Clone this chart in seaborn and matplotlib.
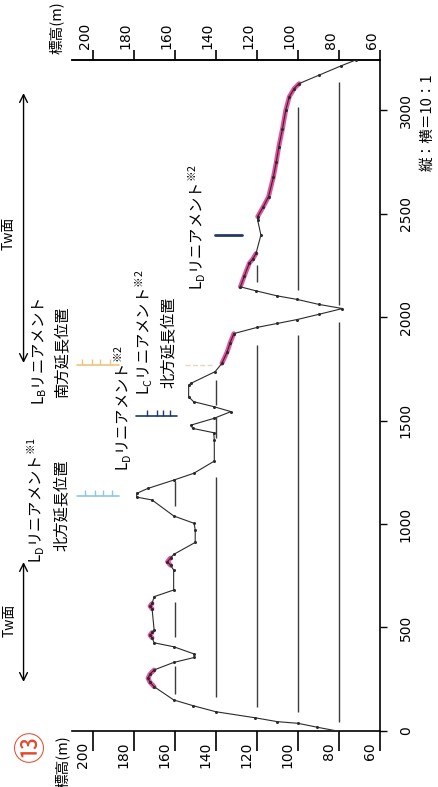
import seaborn as sns
import matplotlib.pyplot as plt
import pandas as pd
from matplotlib.transforms import ScaledTranslation

# -------------------------------------------------
# Data: section profile (distance along line, elevation)
# -------------------------------------------------

dist = [0, 18, 37, 45, 64, 93, 122, 150, 214, 235, 255, 275, 295, 331, 355, 372,
        407, 426, 450, 463, 476, 488, 590, 603, 616, 649, 681, 778, 800, 818, 836,
        853, 911, 971, 1003, 1039, 1116, 1130, 1148, 1172, 1212, 1245, 1304, 1406,
        1441, 1462, 1478, 1510, 1543, 1567, 1591, 1615, 1671, 1680, 1736, 1776,
        1830, 1875, 1920, 1950, 1969, 1988, 2013, 2041, 2061, 2085, 2102, 2127,
        2146, 2200, 2259, 2280, 2307, 2396, 2469, 2485, 2530, 2581, 2677, 2750,
        2822, 2910, 3000, 3064, 3104, 3128, 3169, 3213, 3242]
elev = [81, 90.5, 100, 110, 121, 140, 151, 160.5, 170, 172, 173, 172, 170, 160.5,
        150.5, 150.5, 160.5, 170, 171, 172, 171, 170, 171, 172, 171, 170, 160.5,
        160.5, 162, 163.5, 162, 160.5, 150, 150, 150.5, 160.5, 171, 178.5, 178.5,
        173, 160.5, 150.7, 140.7, 140.7, 141, 151.3, 152, 141, 132.6, 141, 150.8,
        153.2, 153.2, 152, 140.3, 137, 134.5, 133, 131.2, 119.8, 110, 100.3, 89.8,
        78.3, 89.8, 100.3, 110, 120.6, 128, 126, 123.7, 122, 120.4, 118, 119.6,
        119.6, 117, 114.3, 111.9, 110.5, 109.3, 107.5, 105.9, 104.2, 101.8, 99.4,
        89.6, 79.1, 71.8]

# highlighted stretches of the profile (distance from, to)
pink_ranges = [(214, 295), (450, 476), (590, 616), (800, 836),
               (1776, 1920), (2146, 2307), (2485, 3128)]

# level lines drawn under the ground surface: elevation -> (from, to) distances
ref_lines = {
    80: [(45, 1975), (2060, 3137)],
    100: [(93, 1913), (2130, 3016)],
    120: [(117, 1865), (2170, 2250)],
    140: [(166, 1228), (1415, 1517), (1575, 1695)],
    160: [(180, 312), (455, 625), (1085, 1210)],
}

# lineament marks: distance, elevation span, colour, tick elevations
marks = [
    (1137, (207.5, 186.9), "#8cc6ea", [203.9, 199.0, 195.1, 190.3]),
    (1768, (207.8, 186.9), "#f1c27f", [204.9, 200.5, 196.6, 191.7]),
    (1522, (178.6, 159.1), "#1d3a6b", [173.7, 168.8, 165.9, 162.5]),
]

elev_ticks = [200, 180, 160, 140, 120, 100, 80, 60]
dist_ticks = [0, 500, 1000, 1500, 2000, 2500, 3000]

JP = ["Noto Sans CJK JP", "DejaVu Sans"]
NARROW = ["Liberation Sans Narrow", "DejaVu Sans"]

sns.set_theme(style="ticks")
plt.rcParams["font.family"] = JP
plt.rcParams["axes.unicode_minus"] = False

fig = plt.figure(figsize=(4.38, 7.87), dpi=100)
ax = fig.add_axes([0.1644, 0.0712, 0.7032, 0.8526])

# -------------------------------------------------
# Level lines and profile
# -------------------------------------------------

for lvl, segs in ref_lines.items():
    for d0, d1 in segs:
        ax.vlines(lvl, d0, d1, color="#3c3c3c", lw=1.0, zorder=1)

prof = pd.DataFrame({"dist": dist, "elev": elev})
for d0, d1 in pink_ranges:
    seg = prof[(prof["dist"] >= d0) & (prof["dist"] <= d1)]
    ax.plot(seg["elev"], seg["dist"], color="#e3308c", lw=3.4, alpha=0.85,
            solid_capstyle="round", zorder=2)

sns.lineplot(data=prof, x="elev", y="dist", sort=False, estimator=None,
             color="#2b2b2b", lw=0.8, marker="o", markersize=2.2,
             markeredgewidth=0, ax=ax, zorder=3)

# lineament marks
for d, (e0, e1), c, te in marks:
    ax.plot([e0, e1], [d, d], color=c, lw=1.2, zorder=4)
    ax.plot(te, [d] * len(te), ls="none", marker=2, markersize=4,
            markeredgewidth=1.0, color=c, zorder=4)
ax.plot([155.2, 141.6], [1768, 1768], color="#e6d6c6", lw=1.0, ls="--", zorder=4)
ax.plot([140.6, 127.0], [2396, 2396], color="#233a66", lw=2.0, zorder=4)

# -------------------------------------------------
# Axes
# -------------------------------------------------

ax.set_xlim(210, 60)
ax.set_ylim(0, 3242)
ax.set_xlabel("")
ax.set_ylabel("")
ax.spines["left"].set_visible(False)
for s in ["top", "bottom", "right"]:
    ax.spines[s].set_color("black")
    ax.spines[s].set_linewidth(1.2)

ax.set_xticks(elev_ticks)
ax.tick_params(axis="x", direction="out", length=14.4, width=1.2, pad=-6.5,
               labelsize=10, labelrotation=90, labelfontfamily=NARROW,
               colors="black")
ax.yaxis.tick_right()
ax.set_yticks(dist_ticks)
ax.tick_params(axis="y", direction="out", length=5, width=1.0, pad=8.5,
               labelsize=10, labelrotation=90, labelfontfamily=NARROW,
               colors="black")
for lab in ax.get_yticklabels():
    lab.set_va("center")
    lab.set_ha("left")

shift = ScaledTranslation(-0.10, 0, fig.dpi_scale_trans)
for lab in ax.get_xticklabels():
    lab.set_transform(lab.get_transform() + shift)

top = ax.secondary_xaxis("top")
top.set_xticks(elev_ticks)
top.tick_params(direction="out", length=7.2, width=1.2, pad=0.5, labelsize=10,
                labelrotation=90, labelfontfamily=NARROW, colors="black")
top.spines["top"].set_linewidth(1.2)
shift_top = ScaledTranslation(-0.08, 0, fig.dpi_scale_trans)
for lab in top.get_xticklabels():
    lab.set_transform(lab.get_transform() + shift_top)

# -------------------------------------------------
# Annotations
# -------------------------------------------------

def rtext(e, d, s, size=11, color="black"):
    ax.text(e, d, s, rotation=90, ha="center", va="center", fontsize=size,
            color=color, family=JP, clip_on=False)

rtext(227.3, 1116, "$\\mathregular{L_D}$リニアメント$^{\\mathregular{※1}}$")
rtext(215.1, 1092, "北方延長位置")
rtext(225.8, 1836, "$\\mathregular{L_B}$リニアメント")
rtext(215.1, 1831, "南方延長位置")
rtext(185.0, 1560, "$\\mathregular{L_D}$リニアメント$^{\\mathregular{※2}}$")
rtext(174.8, 1925, "$\\mathregular{L_C}$リニアメント$^{\\mathregular{※2}}$")
rtext(163.2, 1879, "北方延長位置")
rtext(148.9, 2435, "$\\mathregular{L_D}$リニアメント$^{\\mathregular{※2}}$")

rtext(240.9, 2406, "Tw面", size=10)
rtext(240.4, 536, "Tw面", size=10)
for d0, d1 in [(1778, 3082), (237, 816)]:
    ax.annotate("", xy=(233.6, d1), xytext=(233.6, d0),
                arrowprops=dict(arrowstyle="<->", lw=1.0, color="black",
                                mutation_scale=14, shrinkA=0, shrinkB=0),
                annotation_clip=False)

rtext(217.5, 3398, "標高(m)", size=10.5)
rtext(214.6, -150, "標高(m)", size=10.5)
rtext(229.7, -72, "⑬", size=23, color="#e2482c")
rtext(36.9, 2942, "縦：横＝10：1", size=10.5)

fig.savefig("out.png", dpi=100)
